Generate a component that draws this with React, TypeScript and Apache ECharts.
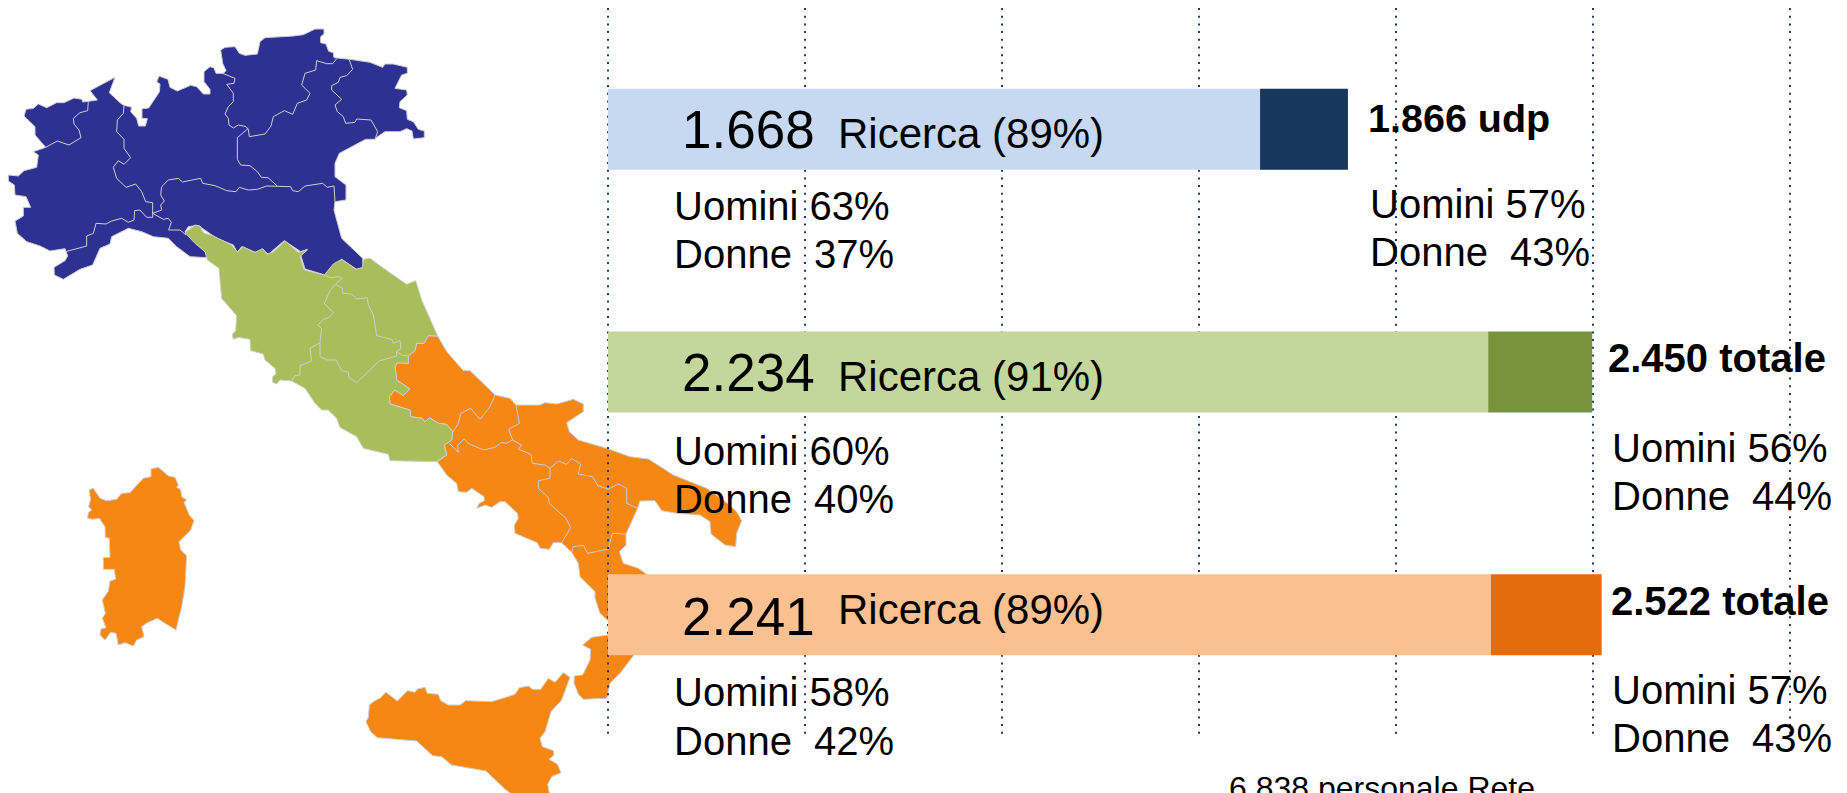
import React, { useEffect, useRef } from "react";
import * as echarts from "echarts";

// ---- data ----
const macroAree = ["Nord", "Centro", "Sud"];
// bar lengths as drawn in the picture (same unit as the dotted 500-step scale)
const barRicerca = [1655, 2234, 2241];
const barAltro = [223, 264, 281];
const ricercaLabels = ["1.668", "2.234", "2.241"];
const ricercaPct = ["89%", "91%", "89%"];
const totalLabels = ["1.866 udp", "2.450 totale", "2.522 totale"];
const uominiRicerca = ["63%", "60%", "58%"];
const donneRicerca = ["37%", "40%", "42%"];
const uominiTotale = ["57%", "56%", "57%"];
const donneTotale = ["43%", "44%", "43%"];
const footerLabel = "6.838 personale Rete";
const colorsLight = ["#C6D9F1", "#C3D69B", "#FAC090"];
const colorsDark = ["#17375E", "#77933C", "#E46C0A"];

type P = [number, number];
const T = (ox: number, oy: number, pts: number[][]): P[] =>
  pts.map(([x, y]) => [ox + x / 3, oy + y / 3] as P);
const A = (p: number[][]) => T(0, 20, p);
const B = (p: number[][]) => T(200, 20, p);
const C = (p: number[][]) => T(170, 220, p);
const D = (p: number[][]) => T(430, 390, p);
const E = (p: number[][]) => T(70, 450, p);
const F = (p: number[][]) => T(350, 630, p);

const northOutline: P[] = [
  ...A([[72,288],[78,268],[100,265],[115,252],[140,263],[170,248],[192,248],[222,234],[246,238],[248,246],[265,244],[292,240],[270,212],[345,172],[328,218],[362,250],[372,256],[395,262],[392,275],[410,295],[416,318],[436,318],[442,296],[426,295],[426,266],[446,264],[478,216],[480,192],[470,186],[477,168],[504,178],[510,202],[532,213],[572,196],[590,200],[610,222],[630,222],[630,208],[612,185],[612,155],[630,140],[642,144],[648,160],[670,160]]),
  ...B([[78,152],[68,130],[62,90],[75,82],[105,80],[118,100],[135,106],[172,102],[180,65],[195,53],[280,48],[310,44],[345,27],[372,27],[372,42],[362,50],[362,68],[378,72],[386,94],[400,98],[402,113],[450,118],[510,127],[548,142],[555,132],[580,132],[622,142],[622,160],[605,165],[585,205],[620,210],[622,225],[600,245],[598,263],[620,272],[622,298],[640,305],[655,328],[673,333],[673,353],[640,357],[636,333],[620,326],[600,335],[555,335],[530,352],[525,358],[497,358],[418,400],[405,430],[405,470],[438,495],[438,540],[405,545],[402,570],[425,655],[488,715],[490,742],[470,748],[425,718],[375,765],[315,747],[302,705],[322,688],[302,695],[253,662],[205,703],[190,690],[165,697],[125,680],[112,697],[100,675],[50,655],[0,620]]),
  ...A([[605,625],[585,617],[565,620],[555,635],[590,670],[620,700],[620,713],[570,710],[530,680],[505,655],[460,650],[425,635],[385,625],[335,650],[330,672],[300,685],[278,735],[240,748],[190,778],[163,765],[162,742],[195,722],[203,708],[195,686],[150,693],[120,678],[80,665],[52,640],[45,603],[70,588],[70,562],[92,562],[78,530],[45,525],[43,495],[25,483],[25,465],[55,468],[72,452],[110,442],[115,405],[100,395],[137,382],[105,345],[105,320]]),
];
const northBorders: P[][] = [
  A([[265,244],[263,272],[240,278],[220,295],[222,312],[237,330],[243,353],[207,375],[172,363],[137,382]]),
  A([[372,256],[370,280],[352,300],[350,335],[372,358],[372,385],[392,413],[372,433],[355,422],[340,442],[350,475],[378,502],[407,492],[425,515],[437,545],[458,548],[458,592],[440,592],[420,570],[404,572],[402,600],[385,607],[365,595],[335,603],[318,612],[288,610],[280,640],[260,648],[260,678],[197,695]]),
  [...A([[458,580],[485,570],[482,555],[493,543],[482,525],[485,500],[505,480],[535,475],[547,486],[602,475]]),
   ...B([[8,490],[45,497],[80,512],[108,515],[118,502],[145,510],[172,508],[200,498],[272,500],[278,512],[295,515],[315,498],[368,490],[382,502],[402,498],[405,545]])],
  A([[458,580],[490,598],[505,595],[514,607],[506,630],[540,630],[558,645]]),
  B([[68,160],[105,175],[102,190],[80,193],[100,220],[100,245],[85,260],[75,282],[85,295],[87,315],[100,324],[115,315],[138,320],[145,328],[148,350],[195,342],[213,318],[220,290],[253,272],[278,283],[292,250],[320,240],[330,220],[305,195],[315,160],[347,150],[350,122],[380,131],[398,131],[410,116]]),
  B([[145,325],[112,353],[112,418],[122,435],[150,437],[172,455],[184,472],[204,473],[232,498]]),
  B([[448,120],[458,148],[440,167],[420,172],[415,187],[395,197],[395,210],[425,238],[405,255],[412,275],[430,290],[437,310],[465,307],[470,297],[513,300],[533,335],[525,358]]),
];
const centreOutline: P[] = C([[45,38],[75,15],[90,18],[100,38],[130,48],[185,75],[203,97],[218,80],[255,97],[278,86],[292,103],[310,95],[345,63],[385,97],[412,90],[390,110],[403,150],[463,165],[490,132],[515,118],[558,148],[578,143],[580,118],[600,115],[655,155],[710,193],[737,182],[755,240],[803,348],[775,347],[762,370],[740,370],[735,392],[715,408],[715,430],[683,428],[675,440],[680,480],[720,507],[700,527],[675,510],[658,530],[660,552],[720,570],[722,590],[757,595],[765,606],[778,593],[805,610],[830,613],[848,635],[845,660],[823,675],[830,705],[800,725],[660,722],[655,703],[580,685],[560,650],[510,622],[500,595],[475,570],[455,570],[435,550],[405,505],[365,483],[330,480],[320,492],[308,487],[308,470],[318,462],[315,445],[285,420],[280,402],[242,392],[240,358],[205,352],[190,358],[187,343],[197,332],[200,287],[155,235],[147,145],[112,120],[105,95],[75,70]]);
const centreBorders: P[][] = [
  C([[463,165],[480,173],[505,170],[517,175],[497,193],[480,212],[463,250],[490,278],[480,290],[458,300],[443,315],[455,325],[450,368]]),
  C([[450,368],[420,385],[425,423],[390,438],[390,465],[375,467],[365,483]]),
  C([[497,193],[517,205],[518,220],[545,222],[560,237],[592,233],[595,255],[610,285],[620,347],[665,358],[670,370],[690,362],[693,385],[680,395],[680,408],[627,423],[560,488],[537,473],[535,457],[515,452],[498,420],[472,420],[450,410],[450,368]]),
  C([[680,395],[695,405],[715,408]]),
];
const southOutline: P[] = [
  ...C([[803,348],[830,395],[880,452],[900,452]]),
  ...D([[180,0],[195,15],[240,25],[258,45],[330,45],[345,38],[380,42],[430,28],[460,42],[460,65],[410,98],[418,125],[445,150],[530,175],[600,200],[655,207],[730,255],[830,295],[880,330],[920,365],[935,392],[920,430],[917,470],[885,465],[843,432],[840,395],[810,375],[740,370],[695,362],[675,332],[630,333],[623,355],[588,432],[588,465],[568,485],[580,520],[625,535],[650,553],[700,640],[640,760],[608,800],[570,850],[540,880],[530,925],[460,928],[445,912],[432,880],[433,858],[458,855],[480,810],[482,778],[458,765],[485,742],[534,735],[600,720],[600,700],[534,692],[510,670],[495,625],[495,605],[450,560],[445,520],[425,487],[395,458],[370,458],[358,478],[330,475],[322,458],[255,430],[253,405],[265,385],[262,370],[225,335],[210,335],[185,352],[165,345],[140,355],[148,340],[163,332],[162,320],[125,295],[110,307],[85,305],[80,280],[50,255],[22,215]]),
  ...C([[830,705],[823,675],[845,660],[848,635],[830,613],[805,610],[778,593],[765,606],[757,595],[722,590],[720,570],[660,552],[658,530],[675,510],[700,527],[720,507],[680,480],[675,440],[683,428],[715,430],[715,408],[735,392],[740,370],[762,370],[775,347]]),
];
const southBorders: P[][] = [
  D([[195,15],[180,50],[150,88],[122,55],[92,70],[85,100],[68,128]]),
  D([[258,45],[268,100],[236,118],[248,150]]),
  D([[58,160],[85,187],[83,165],[103,147],[115,160],[160,180],[195,172],[215,157],[228,160],[248,150]]),
  D([[248,150],[275,165],[265,177],[303,193],[307,220],[345,225],[360,235]]),
  D([[360,235],[385,213],[410,223],[425,205],[452,222],[445,252],[488,260],[503,287],[535,297],[565,282],[590,295],[590,340],[623,355]]),
  D([[360,235],[360,265],[325,272],[325,295],[355,323],[358,340],[408,385],[422,413],[395,458]]),
  D([[425,487],[430,470],[460,466],[473,490],[535,477],[547,430],[588,432]]),
];
const sardiniaOutline: P[] = E([[243,57],[265,52],[295,78],[315,82],[325,105],[320,112],[332,118],[335,140],[350,150],[342,157],[358,195],[372,212],[362,240],[327,275],[332,300],[350,317],[345,410],[335,470],[318,540],[285,520],[262,505],[232,518],[215,530],[222,560],[200,570],[190,588],[165,578],[145,585],[138,550],[122,547],[105,570],[90,555],[93,537],[108,533],[97,505],[106,490],[97,450],[115,423],[120,393],[137,388],[133,358],[100,358],[100,323],[120,322],[118,265],[106,262],[105,230],[88,205],[68,208],[53,205],[55,188],[65,180],[56,170],[62,148],[57,120],[70,115],[90,145],[110,152],[140,148],[155,130],[180,128],[220,85],[243,80]]);
const sicilyOutline: P[] = F([[48,275],[55,262],[58,225],[70,215],[92,203],[108,187],[142,213],[173,182],[195,187],[202,177],[225,172],[232,190],[265,193],[272,212],[295,225],[330,225],[347,212],[425,215],[495,193],[508,173],[535,168],[548,178],[572,178],[595,145],[615,157],[640,128],[660,142],[635,210],[603,245],[585,305],[570,325],[577,350],[610,362],[612,375],[597,388],[622,402],[633,428],[605,440],[593,463],[600,500],[495,500],[462,475],[408,423],[305,405],[275,380],[248,377],[200,333],[82,323],[62,305]]);

const NAVY = "#2E3192";
const GREEN = "#A9BD5A";
const ORANGE = "#F68712";
const EDGE = "#CFCFCF";
const FONT = '"Liberation Sans", Arial, sans-serif';

const polygon = (pts: P[], fill: string, z: number) => ({
  type: "polygon",
  z,
  silent: true,
  shape: { points: pts },
  style: { fill, stroke: EDGE, lineWidth: 1 },
});
const polyline = (pts: P[], z: number) => ({
  type: "polyline",
  z,
  silent: true,
  shape: { points: pts },
  style: { fill: "none", stroke: EDGE, lineWidth: 1 },
});

// x = left edge, base = text baseline
const label = (
  text: string,
  x: number,
  base: number,
  fontSize: number,
  fontWeight: string = "normal",
) => ({
  type: "text",
  z: 10,
  silent: true,
  x,
  y: base - fontSize * 0.3465,
  style: {
    text,
    x: 0,
    y: 0,
    fontSize,
    fontWeight,
    fontFamily: FONT,
    fill: "#000",
    align: "left",
    verticalAlign: "middle",
  },
});

const bigX = [682, 682, 682];
const bigBase = [148, 391, 635];
const recX = 838;
const recBase = [148, 391, 624];
const genLeftX = 674;
const genBase1 = [220, 465, 706];
const genBase2 = [268, 513, 755];
const totX = [1368, 1608, 1611];
const totBase = [132, 372, 615];
const genRightX = [1370, 1612, 1612];
const genRBase1 = [218, 462, 704];
const genRBase2 = [266, 510, 752];

export default function App() {
  const ref = useRef<HTMLDivElement>(null);
  useEffect(() => {
    document.body.style.margin = "0";
    document.body.style.overflow = "hidden";
    const chart = echarts.init(ref.current!, undefined, { renderer: "svg" });
    const texts: any[] = [];
    macroAree.forEach((_, i) => {
      texts.push(label(ricercaLabels[i], bigX[i], bigBase[i], 53));
      texts.push(label(`Ricerca (${ricercaPct[i]})`, recX, recBase[i], 42));
      texts.push(label(`Uomini ${uominiRicerca[i]}`, genLeftX, genBase1[i], 40));
      texts.push(label(`Donne  ${donneRicerca[i]}`, genLeftX, genBase2[i], 40));
      texts.push(label(totalLabels[i], totX[i], totBase[i], i === 0 ? 39.5 : 40, "bold"));
      texts.push(label(`Uomini ${uominiTotale[i]}`, genRightX[i], genRBase1[i], 40));
      texts.push(label(`Donne  ${donneTotale[i]}`, genRightX[i], genRBase2[i], 40));
    });
    texts.push(label(footerLabel, 1229, 799, 32));

    chart.setOption({
      animation: false,
      backgroundColor: "#fff",
      grid: { left: 608, top: 8, width: 1182, height: 728, containLabel: false },
      xAxis: {
        type: "value",
        min: 0,
        max: 3000,
        interval: 500,
        axisLine: { show: false },
        axisTick: { show: false },
        axisLabel: { show: false },
        splitLine: { show: true, lineStyle: { color: "#1F3A68", width: 2, type: [2, 5.7] } },
      },
      yAxis: {
        type: "category",
        inverse: true,
        data: macroAree,
        axisLine: { show: false },
        axisTick: { show: false },
        axisLabel: { show: false },
        splitLine: { show: false },
      },
      series: [
        {
          type: "bar",
          stack: "t",
          barWidth: 81,
          silent: true,
          data: barRicerca.map((v, i) => ({ value: v, itemStyle: { color: colorsLight[i] } })),
        },
        {
          type: "bar",
          stack: "t",
          barWidth: 81,
          silent: true,
          data: barAltro.map((v, i) => ({ value: v, itemStyle: { color: colorsDark[i] } })),
        },
      ],
      graphic: {
        elements: [
          polygon(southOutline, ORANGE, -3),
          polygon(sardiniaOutline, ORANGE, -3),
          polygon(sicilyOutline, ORANGE, -3),
          polygon(northOutline, NAVY, -2),
          polygon(centreOutline, GREEN, -2),
          ...northBorders.map((p) => polyline(p, -1)),
          ...centreBorders.map((p) => polyline(p, -1)),
          ...southBorders.map((p) => polyline(p, -1)),
          ...texts,
        ],
      },
    });
    return () => chart.dispose();
  }, []);
  return <div ref={ref} style={{ position: "fixed", left: 0, top: 0, width: 1847, height: 793 }} />;
}
